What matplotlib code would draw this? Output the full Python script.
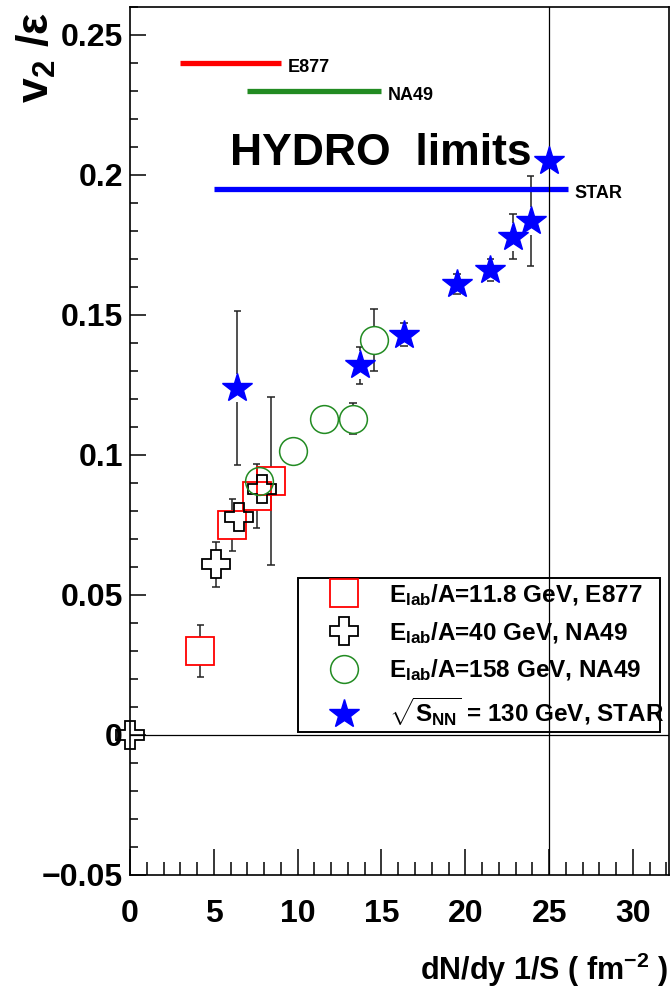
import numpy as np
import matplotlib
matplotlib.use('Agg')
import matplotlib.pyplot as plt
from matplotlib.lines import Line2D
from matplotlib.ticker import MultipleLocator

plt.rcParams['font.family'] = ['Liberation Sans', 'DejaVu Sans']
plt.rcParams['font.weight'] = 'bold'
plt.rcParams['mathtext.fontset'] = 'custom'
plt.rcParams['mathtext.rm'] = 'Liberation Sans:bold'
plt.rcParams['mathtext.it'] = 'Liberation Sans:bold'
plt.rcParams['mathtext.bf'] = 'Liberation Sans:bold'

# E877, Elab/A = 11.8 GeV
e877_x = [4.2, 6.1, 7.55, 8.4]
e877_y = [0.030, 0.075, 0.0854, 0.0907]
e877_err = [0.0093, 0.0093, 0.0115, 0.030]

# NA49, Elab/A = 40 GeV
na40_x = [0.02, 5.13, 6.5, 7.9]
na40_y = [0.0, 0.061, 0.078, 0.088]
na40_err = [0.0, 0.008, 0.0, 0.0]

# NA49, Elab/A = 158 GeV
na158_x = [7.7, 9.7, 11.6, 13.3, 14.56]
na158_y = [0.0907, 0.1015, 0.113, 0.113, 0.141]
na158_err = [0.0, 0.0, 0.0, 0.0054, 0.011]

# STAR, sqrt(sNN) = 130 GeV
star_x = [6.4, 13.7, 16.35, 19.5, 21.5, 22.85, 23.9, 25.0]
star_y = [0.124, 0.132, 0.143, 0.161, 0.166, 0.178, 0.1836, 0.205]
star_err = [0.0275, 0.0066, 0.004, 0.0036, 0.004, 0.008, 0.016, 0.0]

# hydro limits
hydro_names = ['E877', 'NA49', 'STAR']
hydro_x0 = [3.0, 7.0, 5.0]
hydro_x1 = [9.0, 15.0, 26.1]
hydro_y = [0.240, 0.230, 0.195]
hydro_colors = ['#ff0000', '#228b22', '#0000ff']

legend_labels = [r'$\mathregular{E_{lab}}$/A=11.8 GeV, E877',
                 r'$\mathregular{E_{lab}}$/A=40 GeV, NA49',
                 r'$\mathregular{E_{lab}}$/A=158 GeV, NA49',
                 r'$\mathregular{\sqrt{S_{NN}}}$ = 130 GeV, STAR']

yticks = [-0.05, 0, 0.05, 0.1, 0.15, 0.2, 0.25]
ytick_labels = ['\u22120.05', '0', '0.05', '0.1', '0.15', '0.2', '0.25']
xticks = [0, 5, 10, 15, 20, 25, 30]

fig = plt.figure(figsize=(6.71, 9.9), dpi=100)
ax = fig.add_axes([130/671, 1-875/990, 539/671, 868/990])
ax.set_xlim(0, 32.15)
ax.set_ylim(-0.05, 0.26)

ax.axvline(25, color='black', lw=0.9, zorder=6)
ax.axhline(0, color='black', lw=0.9, zorder=1)

gap = 0.005
capw = 0.22


def errbars(xs, ys, es):
    for x, y, e in zip(xs, ys, es):
        if e <= 0:
            continue
        if e > gap:
            ax.vlines(x, y + gap, y + e, color='#222222', lw=1.1, zorder=2)
            ax.vlines(x, y - e, y - gap, color='#222222', lw=1.1, zorder=2)
        ax.hlines([y + e, y - e], x - capw, x + capw, color='#222222', lw=1.1, zorder=2)


errbars(e877_x, e877_y, e877_err)
errbars(na40_x, na40_y, na40_err)
errbars(na158_x, na158_y, na158_err)
errbars(star_x, star_y, star_err)

ms = 20
ax.plot(e877_x, e877_y, 's', ms=ms, mfc='none', mec='#ff0000', mew=1.3, zorder=3)
ax.plot(na40_x, na40_y, 'P', ms=ms, mfc='none', mec='black', mew=1.3, zorder=3, clip_on=False)
ax.plot(na158_x, na158_y, 'o', ms=ms, mfc='none', mec='#228b22', mew=1.1, zorder=3)
ax.plot(star_x, star_y, '*', ms=22, color='#0000ff', mec='#0000ff', zorder=7)

for name, x0, x1, y, c in zip(hydro_names, hydro_x0, hydro_x1, hydro_y, hydro_colors):
    ax.plot([x0, x1], [y, y], color=c, lw=3.8, solid_capstyle='butt')
    ax.text(x1 + 0.4, y - 0.0015, name, fontsize=13, fontweight='bold', va='center', ha='left')

ax.text(5.95, 0.2078, 'HYDRO  limits', fontsize=32, fontweight='bold', va='center', ha='left')

handles = [Line2D([], [], ls='none', marker='s', ms=ms, mfc='none', mec='#ff0000', mew=1.3),
           Line2D([], [], ls='none', marker='P', ms=ms, mfc='none', mec='black', mew=1.3),
           Line2D([], [], ls='none', marker='o', ms=ms, mfc='none', mec='#228b22', mew=1.1),
           Line2D([], [], ls='none', marker='*', ms=22, color='#0000ff')]
leg = ax.legend(handles, legend_labels, loc='upper left', bbox_to_anchor=(0.312, 0.166, 0.671, 0.176),
                mode='expand', fontsize=17.5, frameon=True, fancybox=False, borderaxespad=0,
                handlelength=3.45, handletextpad=0.15, labelspacing=0.5, borderpad=0.15)
leg.get_frame().set_edgecolor('black')
leg.get_frame().set_linewidth(1.4)
leg.get_frame().set_alpha(1)
leg.set_zorder(5)

ax.set_xticks(xticks)
ax.set_yticks(yticks)
ax.set_yticklabels(ytick_labels)
ax.xaxis.set_minor_locator(MultipleLocator(1))
ax.yaxis.set_minor_locator(MultipleLocator(0.01))
ax.tick_params(axis='both', which='both', direction='in', top=False, right=False, width=1.1, labelsize=23)
ax.tick_params(axis='x', which='major', length=18.5, pad=17)
ax.tick_params(axis='x', which='minor', length=9.3)
ax.tick_params(axis='y', which='major', length=11.5, pad=5)
ax.tick_params(axis='y', which='minor', length=5.8)
for lab in ax.get_xticklabels() + ax.get_yticklabels():
    lab.set_fontweight('bold')
for s in ax.spines.values():
    s.set_linewidth(1.2)

fig.text(668/671, 1-970/990, r'dN/dy 1/S ( fm$^{\mathregular{-2}}$ )', fontsize=22, fontweight='bold',
         ha='right', va='center')
fig.text(36/671, 1-12/990, r'$\mathregular{v_2}$ /$\varepsilon$', fontsize=32, fontweight='bold',
         rotation=90, ha='center', va='top')

fig.savefig('out.png', dpi=100)
